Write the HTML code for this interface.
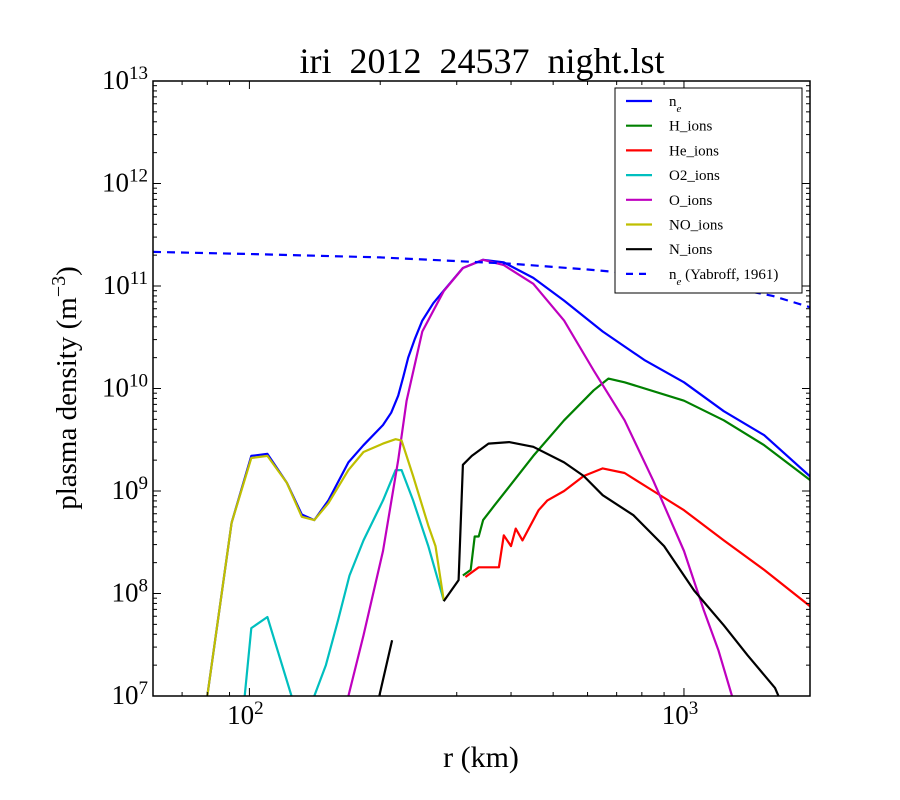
<!DOCTYPE html>
<html><head><meta charset="utf-8"><style>
body{margin:0;background:#fff;}
svg{display:block;font-family:"Liberation Serif",serif;}
</style></head><body>
<svg id="chart" width="900" height="800" viewBox="0 0 900 800">
<defs><clipPath id="clip"><rect x="153" y="81" width="657" height="615"/></clipPath></defs>
<rect width="900" height="800" fill="#fff"/>
<text x="482" y="73" font-size="36" text-anchor="middle" xml:space="preserve" style="white-space:pre">iri  2012  24537  night.lst</text>
<g id="series" clip-path="url(#clip)"></g>
<g id="axes"></g>
<rect x="153" y="81" width="657" height="615" fill="none" stroke="#000" stroke-width="1.5"/>
<text x="481" y="767" font-size="30" text-anchor="middle">r (km)</text>
<text transform="translate(76,388) rotate(-90)" font-size="29" text-anchor="middle">plasma density (m<tspan baseline-shift="super" font-size="20">−3</tspan>)</text>
<g id="legend"></g>
</svg>
<script>
const xTicks=[100,1000];
const yTicks=[1e7,1e8,1e9,1e10,1e11,1e12,1e13];
const seriesNames=["n_e","H_ions","He_ions","O2_ions","O_ions","NO_ions","N_ions","n_e (Yabroff, 1961)"];
const neR=[80,91,101,110,122,132,141,152,169,183,203,212,220,226,232,240,250,265,280,310,345,385,450,530,650,810,1000,1235,1530,2000];
const neV=[1e7,4.9e8,2.2e9,2.3e9,1.2e9,5.9e8,5.2e8,8.1e8,1.9e9,2.8e9,4.4e9,5.8e9,8.5e9,1.3e10,2e10,3e10,4.6e10,6.8e10,9e10,1.5e11,1.8e11,1.7e11,1.2e11,7.2e10,3.6e10,1.9e10,1.15e10,6e9,3.5e9,1.26e9];
const hR=[310,323,330,337,345,366,396,450,530,620,670,730,1000,1235,1530,2000];
const hV=[1.5e8,1.7e8,3.6e8,3.6e8,5.2e8,7.2e8,1.1e9,2.2e9,4.9e9,9.6e9,1.25e10,1.15e10,7.6e9,4.9e9,2.8e9,1.18e9];
const heR=[314,337,366,375,385,400,410,425,463,485,530,588,650,730,850,1000,1235,1530,2000];
const heV=[1.45e8,1.8e8,1.8e8,1.8e8,3.7e8,2.9e8,4.3e8,3.3e8,6.5e8,8.1e8,1e9,1.4e9,1.66e9,1.5e9,1e9,6.5e8,3.3e8,1.7e8,6.9e7];
const o2R=[96,101,110,125,133,141,150,160,170,183,203,217,224,238,258,280];
const o2V=[5e6,4.6e7,5.9e7,1e7,5e6,1e7,2e7,5.5e7,1.5e8,3.3e8,8.1e8,1.6e9,1.6e9,8.1e8,2.9e8,8.6e7];
const oR=[169,183,203,220,230,250,280,310,345,385,450,530,620,730,850,1000,1110,1200,1290];
const oV=[1e7,3.9e7,2.6e8,2e9,7.6e9,3.6e10,8.9e10,1.5e11,1.8e11,1.6e11,1.05e11,4.6e10,1.5e10,4.9e9,1.26e9,2.6e8,6.9e7,2.8e7,1e7];
const noR=[80,91,101,110,122,132,141,152,169,183,203,217,224,238,258,268,280];
const noV=[1e7,4.9e8,2.1e9,2.2e9,1.2e9,5.6e8,5.2e8,7.6e8,1.6e9,2.4e9,2.9e9,3.2e9,3.1e9,1.4e9,4.6e8,2.9e8,8.6e7];
const nR=[199,213,null,280,303,310,325,355,396,450,530,588,650,765,900,1055,1235,1400,1620,1650];
const nV=[1e7,3.5e7,null,8.4e7,1.35e8,1.8e9,2.2e9,2.9e9,3e9,2.7e9,1.9e9,1.4e9,9.1e8,5.8e8,2.9e8,1.07e8,4.9e7,2.5e7,1.2e7,1e7];
const yabR=[60,100,200,300,400,600,800,1000,1300,1600,2000];
const yabV=[2.15e11,2.05e11,1.9e11,1.75e11,1.65e11,1.45e11,1.3e11,1.15e11,9.5e10,8e10,6e10];

const X0=153,X1=810,Y0=81,Y1=696,XMIN=60,XMAX=1950,YMIN=1e7,YMAX=1e13;
const xs=r=>X0+(Math.log10(r)-Math.log10(XMIN))/(Math.log10(XMAX)-Math.log10(XMIN))*(X1-X0);
const ys=v=>Y1-(Math.log10(v)-Math.log10(YMIN))/(Math.log10(YMAX)-Math.log10(YMIN))*(Y1-Y0);
const NS="http://www.w3.org/2000/svg";
function mk(t,a,p){const e=document.createElementNS(NS,t);for(const k in a)e.setAttribute(k,a[k]);p.appendChild(e);return e;}
const sg=document.getElementById('series'),ax=document.getElementById('axes'),lg=document.getElementById('legend');
const defs=[[neR,neV,"#0000ff",""],[hR,hV,"#008000",""],[heR,heV,"#ff0000",""],[o2R,o2V,"#00bfbf",""],[oR,oV,"#bf00bf",""],[noR,noV,"#bfbf00",""],[nR,nV,"#000000",""],[yabR,yabV,"#0000ff","8,6"]];
const keys=["ne","h-ions","he-ions","o2-ions","o-ions","no-ions","n-ions","ne-yabroff"];
defs.forEach((d,i)=>{
  let s="",pen=false;
  for(let j=0;j<d[0].length;j++){
    if(d[0][j]==null){pen=false;continue;}
    s+=(pen?"L":"M")+xs(d[0][j]).toFixed(1)+","+ys(d[1][j]).toFixed(1);pen=true;
  }
  const p=mk('path',{d:s,fill:"none",stroke:d[2],"stroke-width":2.2,"stroke-linejoin":"round"},sg);
  if(d[3])p.setAttribute('stroke-dasharray',d[3]);
  
  
});
for(let dec=1;dec<=3;dec++){for(let m=1;m<10;m++){const r=m*Math.pow(10,dec);if(r<XMIN||r>XMAX)continue;const x=xs(r);const L=m==1?8:4;
  mk('line',{x1:x,x2:x,y1:Y1,y2:Y1-L,stroke:"#000"},ax);mk('line',{x1:x,x2:x,y1:Y0,y2:Y0+L,stroke:"#000"},ax);}}
xTicks.forEach(t=>{const e=mk('text',{x:xs(t)-4,y:724,"font-size":27,"text-anchor":"middle"},ax);
  
  
  e.innerHTML='10<tspan baseline-shift="super" font-size="19">'+Math.round(Math.log10(t))+'</tspan>';});
for(let dec=7;dec<13;dec++){for(let m=1;m<10;m++){const v=m*Math.pow(10,dec);const y=ys(v);const L=m==1?8:4;
  mk('line',{x1:X0,x2:X0+L,y1:y,y2:y,stroke:"#000"},ax);mk('line',{x1:X1,x2:X1-L,y1:y,y2:y,stroke:"#000"},ax);}}
yTicks.forEach(t=>{const e=mk('text',{x:148,y:ys(t)+8,"font-size":27,"text-anchor":"end"},ax);
  
  
  e.innerHTML='10<tspan baseline-shift="super" font-size="19">'+Math.round(Math.log10(t))+'</tspan>';});
mk('rect',{x:615,y:88,width:187,height:205,fill:"#fff",stroke:"#000","stroke-width":1},lg);
const labels=['n<tspan baseline-shift="sub" font-size="11" font-style="italic">e</tspan>',"H_ions","He_ions","O2_ions","O_ions","NO_ions","N_ions",'n<tspan baseline-shift="sub" font-size="11" font-style="italic">e</tspan> (Yabroff, 1961)'];
defs.forEach((d,i)=>{const y=101+i*24.7;
  const l=mk('line',{x1:626,x2:652,y1:y,y2:y,stroke:d[2],"stroke-width":2.2},lg);
  if(d[3])l.setAttribute('stroke-dasharray',"7,6");
  const t=mk('text',{x:669,y:y+5,"font-size":15},lg);
  t.innerHTML=labels[i];
  
  
});
</script>
</body></html>
